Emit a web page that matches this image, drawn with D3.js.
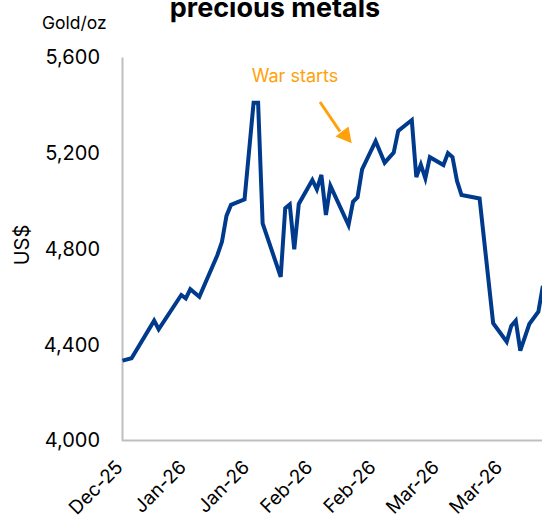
<!DOCTYPE html>
<html>
<head>
<meta charset="utf-8">
<script src="https://cdn.jsdelivr.net/npm/d3@7"></script>
<style>
  html, body { margin: 0; padding: 0; background: #fff; overflow: hidden; }
  svg { display: block; }
  text { font-family: Inter, "Noto Sans", sans-serif; }
</style>
</head>
<body>
<svg id="chart" width="542" height="520"></svg>
<script>
// ---- data ----
const dates = [
  "2025-12-22","2025-12-24","2025-12-29","2025-12-30","2026-01-04","2026-01-05","2026-01-06","2026-01-08",
  "2026-01-12","2026-01-13","2026-01-14","2026-01-15","2026-01-18","2026-01-20","2026-01-21","2026-01-22",
  "2026-01-26","2026-01-27","2026-01-28","2026-01-29","2026-01-30","2026-02-02","2026-02-03","2026-02-04",
  "2026-02-05","2026-02-06","2026-02-10","2026-02-11","2026-02-12","2026-02-13","2026-02-16","2026-02-18",
  "2026-02-20","2026-02-21","2026-02-24","2026-02-25","2026-02-26","2026-02-27","2026-02-28","2026-03-03",
  "2026-03-04","2026-03-05","2026-03-06","2026-03-07","2026-03-11","2026-03-14","2026-03-17","2026-03-18",
  "2026-03-19","2026-03-20","2026-03-22","2026-03-24","2026-03-25"
];
const goldPrice = [
  4333, 4343, 4500, 4464, 4607, 4593, 4631, 4600,
  4774, 4829, 4937, 4983, 5006, 5409, 5409, 4906,
  4683, 4969, 4985, 4798, 4987, 5087, 5048, 5108,
  4941, 5062, 4899, 4996, 5015, 5131, 5249, 5159,
  5201, 5292, 5337, 5099, 5151, 5094, 5182, 5149,
  5199, 5183, 5083, 5024, 5010, 4489, 4412, 4478,
  4500, 4375, 4486, 4537, 4645
];
const tickDates = ["2025-12-22","2026-01-05","2026-01-19","2026-02-02","2026-02-16","2026-03-02","2026-03-16"];
const yTicks = [4000, 4400, 4800, 5200, 5600];
const titleText = "precious metals";
const unitText = "Gold/oz";
const yAxisTitle = "US$";
const annotationText = "War starts";

// ---- drawing ----
const svg = d3.select("#chart");
const parse = d3.utcParse("%Y-%m-%d");
const data = dates.map((d, i) => ({ date: parse(d), value: goldPrice[i] }));

const x = d3.scaleUtc()
  .domain([parse(tickDates[0]), parse(tickDates[tickDates.length - 1])])
  .range([122.5, 502.2]);
const y = d3.scaleLinear().domain([4000, 5600]).range([440.5, 57]);

const axisColor = "#bfbfbf";

svg.append("text")
  .attr("x", 275).attr("y", 17)
  .attr("text-anchor", "middle")
  .attr("font-size", 27).attr("font-weight", 700).attr("fill", "#000")
  .text(titleText);

svg.append("text")
  .attr("x", 42).attr("y", 29)
  .attr("font-size", 17.5).attr("fill", "#000")
  .text(unitText);

// y axis
const yAxis = svg.append("g").attr("transform", "translate(122,0)")
  .call(d3.axisLeft(y).tickValues(yTicks).tickSize(0).tickPadding(22).tickFormat(d3.format(",")));
yAxis.select(".domain").attr("stroke", axisColor).attr("stroke-width", 2);
yAxis.selectAll("text").attr("font-size", 20).attr("fill", "#000").attr("font-family", "Inter, sans-serif");

svg.append("text")
  .attr("transform", "translate(29,245) rotate(-90)")
  .attr("text-anchor", "middle")
  .attr("font-size", 20).attr("fill", "#000")
  .text(yAxisTitle);

// x axis
const xAxis = svg.append("g").attr("transform", "translate(0,440.5)")
  .call(d3.axisBottom(x).tickValues(tickDates.map(parse)).tickSize(0).tickFormat(d3.utcFormat("%b-%y")));
xAxis.select(".domain").remove();
svg.append("line")
  .attr("x1", 122).attr("x2", 542).attr("y1", 440.5).attr("y2", 440.5)
  .attr("stroke", axisColor).attr("stroke-width", 2);
xAxis.selectAll("text")
  .attr("font-size", 19).attr("fill", "#000").attr("font-family", "Inter, sans-serif")
  .attr("text-anchor", "end")
  .attr("dy", 0).attr("y", 0)
  .attr("transform", "translate(1,28) rotate(-45)");

// line
const line = d3.line().x(d => x(d.date)).y(d => y(d.value));
svg.append("path")
  .datum(data)
  .attr("d", line)
  .attr("fill", "none")
  .attr("stroke", "#003a8c")
  .attr("stroke-width", 4)
  .attr("stroke-linejoin", "miter");

// annotation
const orange = "#ffa10a";
svg.append("text")
  .attr("x", 295).attr("y", 82)
  .attr("text-anchor", "middle")
  .attr("font-size", 18).attr("fill", orange)
  .text(annotationText);

svg.append("line")
  .attr("x1", 320).attr("y1", 102)
  .attr("x2", 340).attr("y2", 131.5)
  .attr("stroke", orange).attr("stroke-width", 3);
svg.append("path")
  .attr("d", "M351.7,143.3 L335.5,136.5 L348.5,126.5 Z")
  .attr("fill", orange);
</script>
</body>
</html>
